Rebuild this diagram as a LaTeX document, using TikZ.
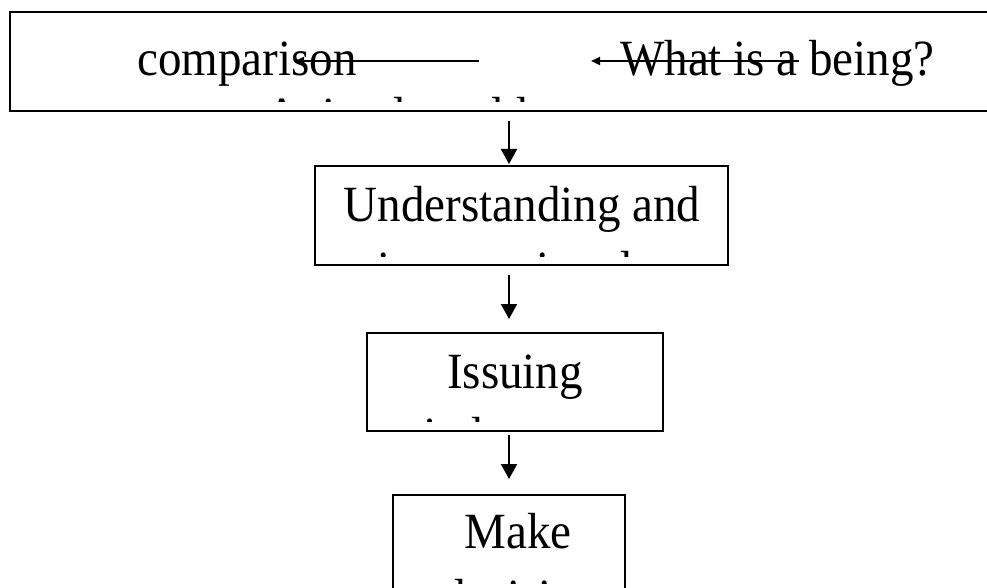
\documentclass[tikz,border=0pt]{standalone}
\usepackage{fontspec}
\setmainfont{Liberation Serif}
\usetikzlibrary{arrows.meta}
\newcommand{\tallt}[1]{\scalebox{1}[1.08]{#1}}
\begin{document}
\begin{tikzpicture}[x=1pt,y=-1pt,
  boxnode/.style={draw,line width=2pt,inner sep=0pt,rectangle},
  txt/.style={inner sep=0pt,font=\fontsize{47}{52}\selectfont},
  varr/.style={line width=2pt,-{Triangle[width=16pt,length=15pt]}},
  harr/.style={line width=2pt,-{Triangle[width=8pt,length=9pt]}}]
\useasboundingbox[fill=white] (0,0) rectangle (987,588);
% boxes
\node[boxnode,minimum width=990pt,minimum height=99pt] (topbox) at (505,61.5) {};
\node[boxnode,minimum width=413pt,minimum height=99pt] (under) at (521.5,215.5) {};
\node[boxnode,minimum width=296pt,minimum height=98pt] (iss) at (515,382) {};
\node[boxnode,minimum width=232pt,minimum height=155pt] (make) at (509,572.5) {};
% texts of the top box
\node[txt,anchor=base west] (t1) at (137,76) {\tallt{comparison}};
\node[txt,anchor=base west] (t2) at (620,76) {\tallt{What is a being?}};
\begin{scope}
  \clip (12,14) rectangle (986,102);
  \node[txt,anchor=base west] (t3) at (265,133) {\tallt{Animal world}};
\end{scope}
% second box
\node[txt,anchor=base] (u1) at (522,221) {\tallt{Understanding and}};
\begin{scope}
  \clip (317,168) rectangle (726,256);
  \node[txt,anchor=base west] (u2) at (377,286) {\tallt{interpreting data}};
\end{scope}
% third box
\node[txt,anchor=base] (i1) at (515,388) {\tallt{Issuing}};
\begin{scope}
  \clip (369,335) rectangle (661,421);
  \node[txt,anchor=base west] (i2) at (423,452) {\tallt{judgments}};
\end{scope}
% fourth box
\node[txt,anchor=base] (m1) at (518,548) {\tallt{Make}};
\begin{scope}
  \clip (395,497) rectangle (623,583);
  \node[txt,anchor=base west] (m2) at (442,614) {\tallt{decisions}};
\end{scope}
% horizontal arrows in the top box
\coordinate (h1a) at (479,61);
\coordinate (h1b) at (295,61);
\coordinate (h2a) at (799,61);
\coordinate (h2b) at (591,61);
\draw[harr] (h1a) -- (h1b);
\draw[harr] (h2a) -- (h2b);
% vertical arrows
\coordinate (v1s) at (509,121);
\coordinate (v2s) at (509,275);
\coordinate (v3s) at (509,435);
\draw[varr,shorten >=1pt] (v1s) -- (v1s |- under.north);
\draw[varr,shorten >=13pt] (v2s) -- (v2s |- iss.north);
\draw[varr,shorten >=15pt] (v3s) -- (v3s |- make.north);
\end{tikzpicture}
\end{document}
